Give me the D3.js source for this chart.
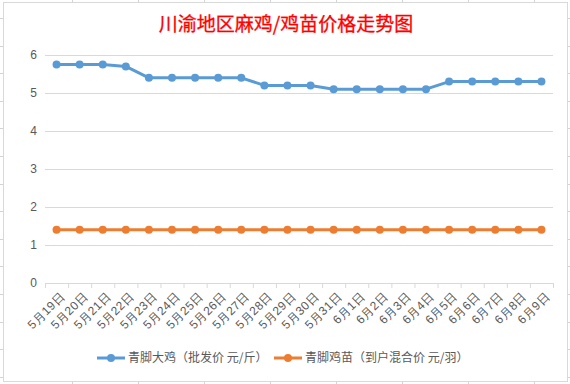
<!DOCTYPE html>
<html>
<head>
<meta charset="utf-8">
<script src="https://cdn.jsdelivr.net/npm/d3@7"></script>
<style>
	html, body { margin: 0; padding: 0; background: #fff; }
	svg { display: block; font-family: "Noto Sans CJK SC", "Noto Sans", sans-serif; }
</style>
</head>
<body>
<div id="chart"></div>
<script>
"use strict";

const title = "川渝地区麻鸡/鸡苗价格走势图";
const dates = ["5月19日", "5月20日", "5月21日", "5月22日", "5月23日", "5月24日", "5月25日", "5月26日",
	"5月27日", "5月28日", "5月29日", "5月30日", "5月31日", "6月1日", "6月2日", "6月3日", "6月4日",
	"6月5日", "6月6日", "6月7日", "6月8日", "6月9日"];
const seriesNames = ["青脚大鸡（批发价 元/斤）", "青脚鸡苗（到户混合价 元/羽）"];
const bigChicken = [5.75, 5.75, 5.75, 5.7, 5.4, 5.4, 5.4, 5.4, 5.4, 5.2, 5.2, 5.2, 5.1, 5.1, 5.1, 5.1, 5.1,
	5.3, 5.3, 5.3, 5.3, 5.3];
const chick = [1.4, 1.4, 1.4, 1.4, 1.4, 1.4, 1.4, 1.4, 1.4, 1.4, 1.4, 1.4, 1.4, 1.4, 1.4, 1.4, 1.4,
	1.4, 1.4, 1.4, 1.4, 1.4];
const yTicks = [0, 1, 2, 3, 4, 5, 6];
const colors = ["#5B9BD5", "#ED7D31"];

const width = 570;
const height = 384;
const plot = {left: 45, right: 553, top: 55, bottom: 283};

let svg = d3.select("#chart").append("svg").attr("width", width).attr("height", height);

// spreadsheet cell lines peeking out behind the chart object
const cellLine = "#D4D4D4";
for (let y = 18; y < height; y += 27.6) {
	svg.append("line").attr("x1", 0).attr("x2", width).attr("y1", Math.round(y) + 0.5).attr("y2", Math.round(y) + 0.5)
		.attr("stroke", cellLine);
}
for (let x = 72; x < width; x += 66) {
	svg.append("line").attr("y1", 0).attr("y2", height).attr("x1", x + 0.5).attr("x2", x + 0.5)
		.attr("stroke", cellLine);
}
svg.append("rect")
	.attr("x", 3.5).attr("y", 2.5).attr("width", 564).attr("height", 379)
	.attr("fill", "#fff").attr("stroke", "#D9D9D9");

svg.append("text")
	.attr("x", 286).attr("y", 31)
	.attr("text-anchor", "middle")
	.attr("fill", "#FF0000")
	.attr("font-size", 19)
	.attr("stroke", "#FF0000")
	.attr("stroke-width", 0.3)
	.text(title);

let x = d3.scaleBand().domain(dates).range([plot.left, plot.right]);
let y = d3.scaleLinear().domain([0, 6]).range([plot.bottom, plot.top]);

// gridlines + y labels
let yAxis = svg.append("g")
	.attr("transform", `translate(${plot.left},0)`)
	.call(d3.axisLeft(y).tickValues(yTicks).tickSize(-(plot.right - plot.left)).tickPadding(8).tickFormat(d3.format("d")));
yAxis.select(".domain").remove();
yAxis.selectAll(".tick line").attr("stroke", "#D9D9D9");
yAxis.selectAll(".tick text").attr("fill", "#595959").attr("font-size", 12);

// category axis
let xAxis = svg.append("g")
	.attr("transform", `translate(0,${plot.bottom})`)
	.call(d3.axisBottom(x).tickSize(0).tickFormat(""));
xAxis.select(".domain").attr("stroke", "#D9D9D9");
xAxis.selectAll(".tick").remove();
let edges = dates.map(d => x(d)).concat([plot.right]);
xAxis.selectAll("line.edge").data(edges).enter().append("line")
	.attr("class", "edge")
	.attr("x1", d => d + 0.5).attr("x2", d => d + 0.5)
	.attr("y1", 0).attr("y2", 5)
	.attr("stroke", "#D9D9D9");
xAxis.selectAll("text.lbl").data(dates).enter().append("text")
	.attr("class", "lbl")
	.attr("transform", d => `translate(${x(d) + x.bandwidth() / 2 + 6},${11}) rotate(-45)`)
	.attr("text-anchor", "end")
	.attr("dy", "0.35em")
	.attr("fill", "#595959")
	.attr("font-size", 12)
	.attr("letter-spacing", 0.5)
	.text(d => d);

// series
const series = [bigChicken, chick];
let line = d3.line()
	.x((d, i) => x(dates[i]) + x.bandwidth() / 2)
	.y(d => y(d));
series.forEach((values, s) => {
	svg.append("path")
		.datum(values)
		.attr("d", line)
		.attr("fill", "none")
		.attr("stroke", colors[s])
		.attr("stroke-width", 3)
		.attr("stroke-linejoin", "round");
	svg.append("g").selectAll("circle").data(values).enter().append("circle")
		.attr("cx", (d, i) => x(dates[i]) + x.bandwidth() / 2)
		.attr("cy", d => y(d))
		.attr("r", 4)
		.attr("fill", colors[s]);
});

// legend
const legendX = [97, 274];
seriesNames.forEach((name, s) => {
	let g = svg.append("g").attr("transform", `translate(${legendX[s]},358)`);
	g.append("line").attr("x1", 0).attr("x2", 28).attr("y1", 0).attr("y2", 0)
		.attr("stroke", colors[s]).attr("stroke-width", 3);
	g.append("circle").attr("cx", 14).attr("cy", 0).attr("r", 4).attr("fill", colors[s]);
	g.append("text").attr("x", 31).attr("y", 0).attr("dy", "0.35em")
		.attr("fill", "#595959").attr("font-size", 12)
		.text(name);
});
</script>
</body>
</html>
